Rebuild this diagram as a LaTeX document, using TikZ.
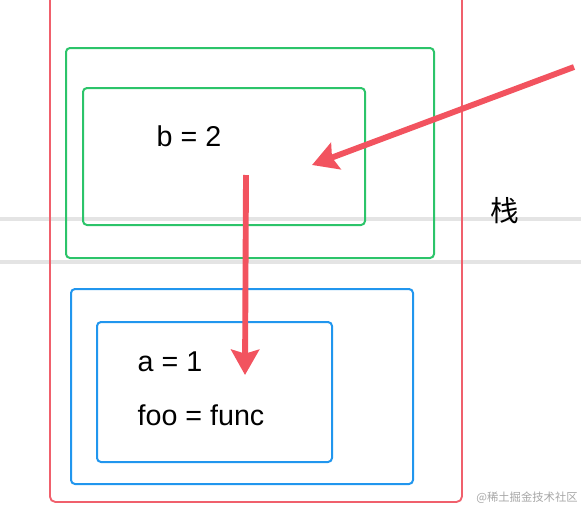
\documentclass[tikz,border=0pt]{standalone}
\usepackage{fontspec}
\setmainfont{Liberation Sans}
\newfontfamily\cjk{Noto Sans CJK SC}
\usetikzlibrary{arrows.meta}
\definecolor{redc}{HTML}{F2535F}
\definecolor{redbox}{HTML}{F0606C}
\definecolor{greenc}{HTML}{2CC46A}
\definecolor{bluec}{HTML}{2196EE}
\definecolor{grayline}{HTML}{E4E4E4}
\definecolor{wm}{HTML}{A6A6A6}
\begin{document}
\begin{tikzpicture}[x=0.75pt,y=-0.75pt,
  box/.style={draw,line width=1.5pt,rounded corners=3pt,inner sep=0pt,anchor=north west},
  gbox/.style={box,draw=greenc},
  bbox/.style={box,draw=bluec},
  rbox/.style={box,draw=redbox,line width=1.4pt,rounded corners=4pt},
  lbl/.style={font=\fontsize{21.5}{25}\selectfont,text=black,inner sep=0pt},
  bigarrow/.style={draw=redc,line width=4.4pt,-{Stealth[length=19pt,width=21pt,inset=3pt]}},
]
\useasboundingbox (0,0) rectangle (581,518);
% gray guide lines
\coordinate (gl1a) at (0,219); \coordinate (gl1b) at (581,219);
\coordinate (gl2a) at (0,262); \coordinate (gl2b) at (581,262);
\draw[grayline,line width=2.4pt] (gl1a) -- (gl1b);
\draw[grayline,line width=2.4pt] (gl2a) -- (gl2b);
% red stack frame
\node[rbox,minimum width={412*0.75pt},minimum height={521*0.75pt}] (stack) at (49,-20) {};
% green boxes
\node[gbox,minimum width={368*0.75pt},minimum height={210*0.75pt}] (gouter) at (65,47) {};
\node[gbox,minimum width={282*0.75pt},minimum height={137*0.75pt}] (ginner) at (82,87) {};
% blue boxes
\node[bbox,minimum width={342*0.75pt},minimum height={195*0.75pt}] (bouter) at (70,288) {};
\node[bbox,minimum width={235*0.75pt},minimum height={140*0.75pt}] (binner) at (96,321) {};
% labels
\node[lbl] (b) at (189,136) {b = 2};
\node[lbl] (a) at (170,362) {a = 1};
\node[lbl] (foo) at (201,415) {foo = func};
\node[font=\cjk\fontsize{21.5}{25}\selectfont,inner sep=0pt] (zhan) at (505,211) {栈};
\node[font=\cjk\fontsize{8.5}{10}\selectfont,text=wm,inner sep=0pt,anchor=east] (wmark) at (578,498) {@稀土掘金技术社区};
% arrows
\coordinate (a1s) at (574,67);
\coordinate (a1e) at (312,165);
\coordinate (a2s) at (246,175);
\coordinate (a2e) at (245,375);
\draw[bigarrow] (a1s) -- (a1e);
\draw[bigarrow] (a2s) -- (a2e);
\end{tikzpicture}
\end{document}
